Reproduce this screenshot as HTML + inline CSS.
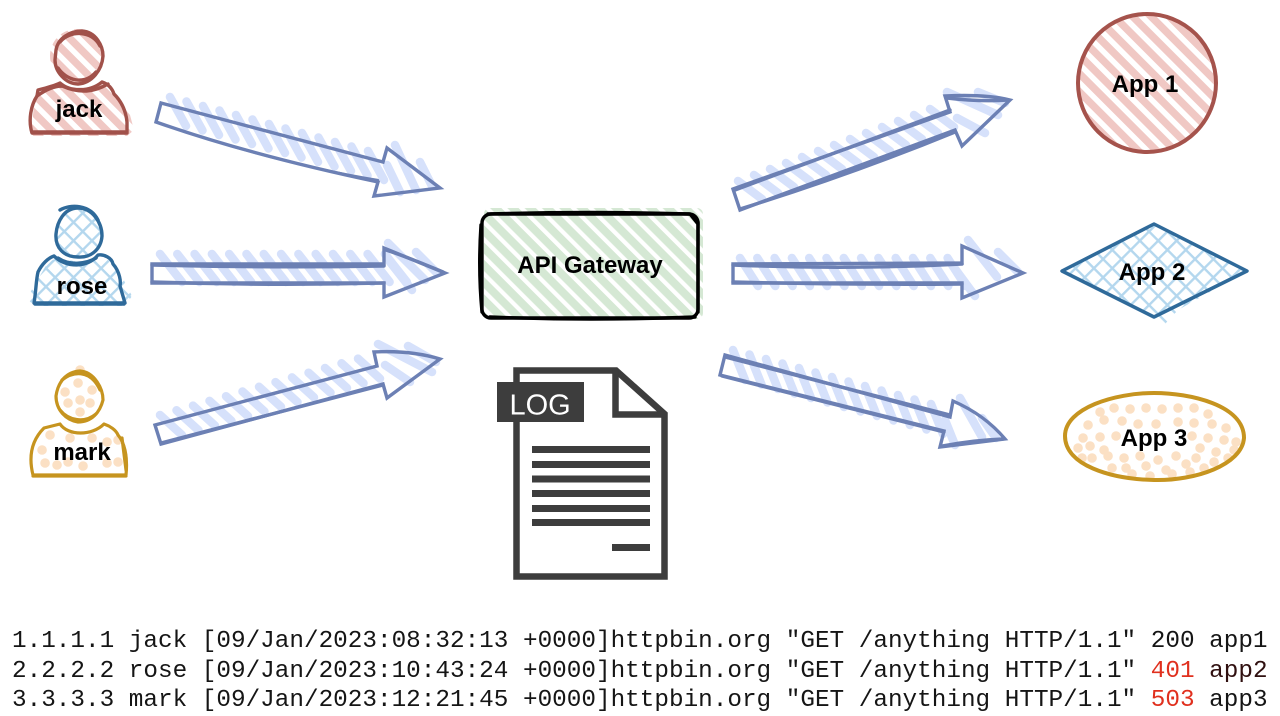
<!DOCTYPE html>
<html><head><meta charset="utf-8"><style>
html,body{margin:0;padding:0;background:#fff;width:1280px;height:716px;overflow:hidden}
svg{display:block}
.l{font:bold 24px "Liberation Sans",sans-serif;fill:#000;text-anchor:middle}
.m{font:24.33px "Liberation Mono",monospace;fill:#151515}
.o{fill:none;stroke-linejoin:round;stroke-linecap:round}
.a{fill:none;stroke:#6c80b4;stroke-width:3.4;stroke-linejoin:miter;stroke-linecap:round}
.h{fill:none;stroke:#d6e1fb;stroke-width:8.5;stroke-linecap:round}
.d{fill:none;stroke:#fbe0c4;stroke-width:9.5;stroke-linecap:round}
</style></head><body>
<svg width="1280" height="716" viewBox="0 0 1280 716" xmlns="http://www.w3.org/2000/svg">
<defs>
<pattern id="red" width="13" height="13" patternUnits="userSpaceOnUse" patternTransform="rotate(45)"><rect width="13" height="7.5" fill="#f0c8c4"/></pattern>
<pattern id="grn" width="12.2" height="12.2" patternUnits="userSpaceOnUse" patternTransform="rotate(45)"><rect width="12.2" height="8" fill="#d5e8d4"/></pattern>
<pattern id="blu" width="13" height="13" patternUnits="userSpaceOnUse" patternTransform="rotate(45)"><rect width="13" height="2.4" fill="#b4d7ee"/><rect width="2.4" height="13" fill="#b4d7ee"/></pattern>
</defs>

<!-- arrow hatching -->
<path class="h" d="M170 97l16 29m.5-24.5l16 29m.5-24.5l16 29m.5-24.5l16 29m.5-24.5l16 29m.5-24.5l16 29m.5-24.5l16 29m.5-24.5l16 29m.5-24.5l16 29m.5-24.5l16 29m.5-24.5l16 29m.5-24.5l16 29m.5-24.5l16 29M395 145L416 190M420 162L432 186M387 165L400 192"/>
<path class="h" d="M160 254l22 28m-4.7-28l22 28m-4.7-28l22 28m-4.7-28l22 28m-4.7-28l22 28m-4.7-28l22 28m-4.7-28l22 28m-4.7-28l22 28m-4.7-28l22 28m-4.7-28l22 28m-4.7-28l22 28m-4.7-28l22 28m-4.7-28l22 28m-4.7-28l22 28M388 243L425 280M416 252L436 272M390 262L412 290"/>
<path class="h" d="M160 415l22 20m-5.5-24.7l22 20m-5.5-24.7l22 20m-5.5-24.7l22 20m-5.5-24.7l22 20m-5.5-24.7l22 20m-5.5-24.7l22 20m-5.5-24.7l22 20m-5.5-24.7l22 20m-5.5-24.7l22 20m-5.5-24.7l22 20m-5.5-24.7l22 20m-5.5-24.7l22 20M378 344L432 372M408 346L436 362M385 365L410 382"/>
<path class="h" d="M738 181l24 18m-8-24l24 18m-8-24l24 18m-8-24l24 18m-8-24l24 18m-8-24l24 18m-8-24l24 18m-8-24l24 18m-8-24l24 18m-8-24l24 18m-8-24l24 18m-8-24l24 18m-8-24l24 18M947 92L998 115M978 92L1005 103M957 118L985 133"/>
<path class="h" d="M740 258l18 28m-.7-28l18 28m-.7-28l18 28m-.7-28l18 28m-.7-28l18 28m-.7-28l18 28m-.7-28l18 28m-.7-28l18 28m-.7-28l18 28m-.7-28l18 28m-.7-28l18 28m-.7-28l18 28m-.7-28l18 28M968 240L997 277M998 252L1018 272M950 262L975 296"/>
<path class="h" d="M733 350l12 30m4.5-25.5l12 30m4.5-25.5l12 30m4.5-25.5l12 30m4.5-25.5l12 30m4.5-25.5l12 30m4.5-25.5l12 30m4.5-25.5l12 30m4.5-25.5l12 30m4.5-25.5l12 30m4.5-25.5l12 30m4.5-25.5l12 30m4.5-25.5l12 30M960 398L982 437M982 418L996 438M945 420L955 445"/>

<!-- arrows -->
<path class="a" d="M161 103L383 162L387 148L440 188L374 196L378 182Q250 155 156 122Z"/>
<path class="a" style="stroke-width:2.2" d="M156 122Q270 162 378 180"/>
<path class="a" d="M152 264L384 264L384 248L445 273L384 297L384 283L152 283Z"/>
<path class="a" d="M152 265Q270 268 384 266M152 282Q270 286 384 283M386 250Q410 258 443 272"/>
<path class="a" d="M155 425L377 366L374 352Q410 350 440 359L387 398L383 384L161 444Z"/>
<path class="a" d="M161 443L383 385"/>
<path class="a" d="M733 189L950 112L945 96Q985 94 1010 100L962 146L955 130L740 210Z"/>
<path class="a" d="M735 190L950 110M740 209Q850 175 955 132M947 98Q980 102 1008 100"/>
<path class="a" d="M733 264L962 263L962 246L1023 273L962 298L962 283L733 283Z"/>
<path class="a" d="M733 265Q850 270 962 264M733 282Q850 285 962 284"/>
<path class="a" d="M725 355L950 417L953 401Q985 415 1005 439L940 447L944 431L720 375Z"/>
<path class="a" d="M725 357L950 415M722 376L944 432M942 446Q975 440 1003 439"/>

<!-- jack -->
<circle cx="77" cy="56" r="27" fill="url(#red)"/>
<path d="M38 90L60 82Q80 95 102 82L130 115L134 130L127 136H31L34 105Z" fill="url(#red)"/>
<g class="o" stroke="#a1514a" stroke-width="3.4">
<path d="M56 50C58 38 70 31 82 31C96 32 103 46 103 56C102 70 92 83 78 84C66 84 55 72 55 60Z"/>
<path d="M60 42C70 30 92 30 100 46M58 68C66 80 84 86 96 72"/>
<path d="M38 90C46 88 54 86 60 83C70 92 90 92 102 82C108 84 112 88 114 94C122 102 126 112 127 122V133H32C28 120 31 105 37 96Z"/>
<path d="M37 96C48 88 56 86 62 86C80 94 94 92 108 84M32 132H125"/>
</g>
<text class="l" x="79" y="117">jack</text>

<!-- rose -->
<path d="M78 207C92 207 102 222 102 236C101 250 90 258 78 258C64 258 55 248 55 236C55 222 64 207 78 207Z" fill="url(#blu)"/>
<path d="M27 298L48 262L62 256Q80 268 100 255L116 265L132 296L125 306H34Z" fill="url(#blu)"/>
<g class="o" stroke="#2f6a9a" stroke-width="3.4">
<path d="M78 208C92 208 102 222 102 236C101 250 90 258 78 257C64 257 55 248 56 234C57 222 64 208 78 208Z"/>
<path d="M54 256C66 268 88 268 98 255C104 254 112 258 113 264C120 272 121 282 120 286L125 303H34C36 292 36 280 38 272C42 264 48 258 54 256Z"/>
<path d="M35 304H124M60 210C70 204 90 204 98 220M58 258C70 266 86 264 96 258"/>
</g>
<text class="l" x="82" y="294">rose</text>

<!-- mark -->
<path class="d" d="M80 370h.1M65 392h.1M78 383h.1M92 390h.1M68 403h.1M80 400h.1M90 403h.1M80 412h.1M50 435h.1M70 438h.1M92 438h.1M107 442h.1M118 440h.1M42 450h.1M45 463h.1M57 465h.1M68 462h.1M83 466h.1M107 463h.1M118 462h.1"/>
<g class="o" stroke="#c6941f" stroke-width="3.2">
<path d="M80 371C94 372 103 388 103 400C100 412 92 422 78 422C66 420 56 410 56 396C58 382 66 372 80 371Z"/>
<path d="M62 380C72 372 90 368 100 390M60 410C68 420 84 424 96 414"/>
<path d="M44 428L60 424C68 436 92 436 104 424C110 426 116 430 118 435C124 442 128 455 126 475H33C28 455 32 440 44 428Z"/>
<path d="M33 476H126M122 438L126 470"/>
</g>
<text class="l" x="82" y="460">mark</text>

<!-- gateway -->
<rect x="484" y="208" width="219" height="111" rx="6" fill="url(#grn)"/>
<g class="o" stroke="#000" stroke-width="3.4">
<rect x="482" y="214" width="216" height="104" rx="9"/>
<path d="M481 225Q478 270 482 312M490 317Q590 321 695 317M488 214Q590 211 690 214L698 224M698 222V312"/>
</g>
<text class="l" x="590" y="273">API Gateway</text>

<!-- log icon -->
<g fill="none" stroke="#3d3d3d" stroke-width="6.5">
<path d="M516.5 370.5H616L664.5 414V576.5H516.5Z"/>
<path d="M615.500 370V414.500H665"/>
</g>
<rect x="497" y="382" width="87" height="40" fill="#3d3d3d"/>
<text x="509.500" y="414.500" font-family="Liberation Sans,sans-serif" font-size="29" fill="#fff">LOG</text>
<g fill="#3d3d3d">
<rect x="532" y="446" width="118" height="7"/>
<rect x="532" y="461" width="118" height="7"/>
<rect x="532" y="475.500" width="118" height="7"/>
<rect x="532" y="490" width="118" height="7"/>
<rect x="532" y="505" width="118" height="7"/>
<rect x="532" y="519" width="118" height="7"/>
<rect x="612" y="544" width="38" height="7"/>
</g>

<!-- App 1 -->
<circle cx="1147" cy="83" r="68" fill="url(#red)"/>
<g class="o" stroke="#a5534c" stroke-width="4">
<circle cx="1147" cy="83" r="69"/>
</g>
<text class="l" x="1145" y="92">App 1</text>

<!-- App 2 -->
<path d="M1062 271L1154 224L1247 271L1178 310L1165 324L1154 317Z" fill="url(#blu)"/>
<path d="M1062 271L1154 224L1247 271L1154 317Z" class="o" stroke="#2f6a9a" stroke-width="3.500"/>
<text class="l" x="1152" y="280">App 2</text>

<!-- App 3 -->
<path class="d" d="M1100 412h.1M1114 408h.1M1130 409h.1M1146 408h.1M1162 409h.1M1178 408h.1M1194 408h.1M1208 414h.1M1088 425h.1M1104 420h.1M1122 421h.1M1138 424h.1M1156 424h.1M1178 422h.1M1194 423h.1M1212 424h.1M1226 428h.1M1083 438h.1M1100 437h.1M1116 436h.1M1192 436h.1M1208 438h.1M1224 440h.1M1236 442h.1M1078 448h.1M1090 446h.1M1104 450h.1M1200 448h.1M1216 452h.1M1234 450h.1M1082 458h.1M1092 458h.1M1108 456h.1M1124 458h.1M1140 456h.1M1158 460h.1M1176 456h.1M1196 458h.1M1214 462h.1M1228 458h.1M1112 468h.1M1126 468h.1M1146 466h.1M1166 470h.1M1186 464h.1M1204 468h.1M1132 474h.1M1150 476h.1M1172 474h.1M1190 472h.1"/>
<g class="o" stroke="#c6941f" stroke-width="4">
<path d="M1154 393C1190 393 1244 405 1244 438C1242 465 1195 481 1154 480C1110 479 1065 465 1065 436C1065 408 1115 393 1154 393Z"/>
</g>
<text class="l" x="1154" y="446">App 3</text>

<!-- log text -->
<text class="m" x="12" y="647">1.1.1.1 jack [09/Jan/2023:08:32:13 +0000]httpbin.org "GET /anything HTTP/1.1" 200 app1</text>
<text class="m" x="12" y="677">2.2.2.2 rose [09/Jan/2023:10:43:24 +0000]httpbin.org "GET /anything HTTP/1.1" <tspan fill="#e0301e">401</tspan> <tspan fill="#301010">app2</tspan></text>
<text class="m" x="12" y="706">3.3.3.3 mark [09/Jan/2023:12:21:45 +0000]httpbin.org "GET /anything HTTP/1.1" <tspan fill="#e0301e">503</tspan> app3</text>
</svg>
</body></html>
